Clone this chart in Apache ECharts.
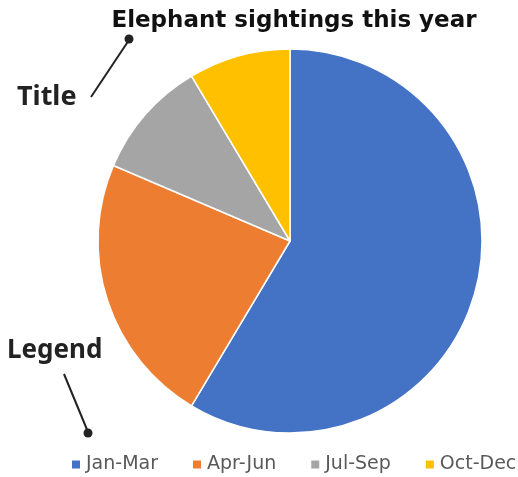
<!DOCTYPE html>
<html><head><meta charset="utf-8">
<script src="https://cdn.jsdelivr.net/npm/echarts@6/dist/echarts.min.js"></script>
<style>html,body{margin:0;padding:0;background:#fff}#c{width:518px;height:477px}</style>
</head><body><div id="c"></div>
<script>
const categories = ['Jan-Mar', 'Apr-Jun', 'Jul-Sep', 'Oct-Dec'];
const values = [8.2, 3.2, 1.4, 1.2];
const colors = ['#4472C4', '#ED7D31', '#A5A5A5', '#FFC000'];
const titleText = 'Elephant sightings this year';

const chart = echarts.init(document.getElementById('c'));
chart.setOption({
  animation: false,
  color: colors,
  title: {
    text: titleText, left: 289, top: 5, textAlign: 'center',
    textStyle: {fontFamily: 'DejaVu Sans', fontWeight: 'bold', fontSize: 23, color: '#111'}
  },
  legend: {
    data: categories, top: 455, left: 70, width: 448, padding: 0,
    itemWidth: 10, itemHeight: 10, itemGap: 33,
    icon: 'rect',
    textStyle: {fontFamily: 'DejaVu Sans', fontSize: 19, color: '#595959'}
  },
  series: [{
    type: 'pie', center: [290, 241], radius: 192, startAngle: 90, clockwise: true,
    label: {show: false}, labelLine: {show: false},
    itemStyle: {borderColor: '#fff', borderWidth: 1.5},
    data: categories.map((c, i) => ({name: c, value: values[i]}))
  }],
  graphic: [
    {type: 'text', left: 17, top: 84, style: {text: 'Title', font: 'bold 27px "Noto Sans"', fill: '#222'}},
    {type: 'line', shape: {x1: 91, y1: 97, x2: 129, y2: 40}, style: {stroke: '#222', lineWidth: 2}},
    {type: 'circle', shape: {cx: 129, cy: 39, r: 4.5}, style: {fill: '#222'}},
    {type: 'text', left: 7, top: 338, style: {text: 'Legend', font: 'bold 26px "Noto Sans"', fill: '#222'}},
    {type: 'line', shape: {x1: 64, y1: 374, x2: 88, y2: 432}, style: {stroke: '#222', lineWidth: 2}},
    {type: 'circle', shape: {cx: 88, cy: 433, r: 4.5}, style: {fill: '#222'}}
  ]
});
</script></body></html>
